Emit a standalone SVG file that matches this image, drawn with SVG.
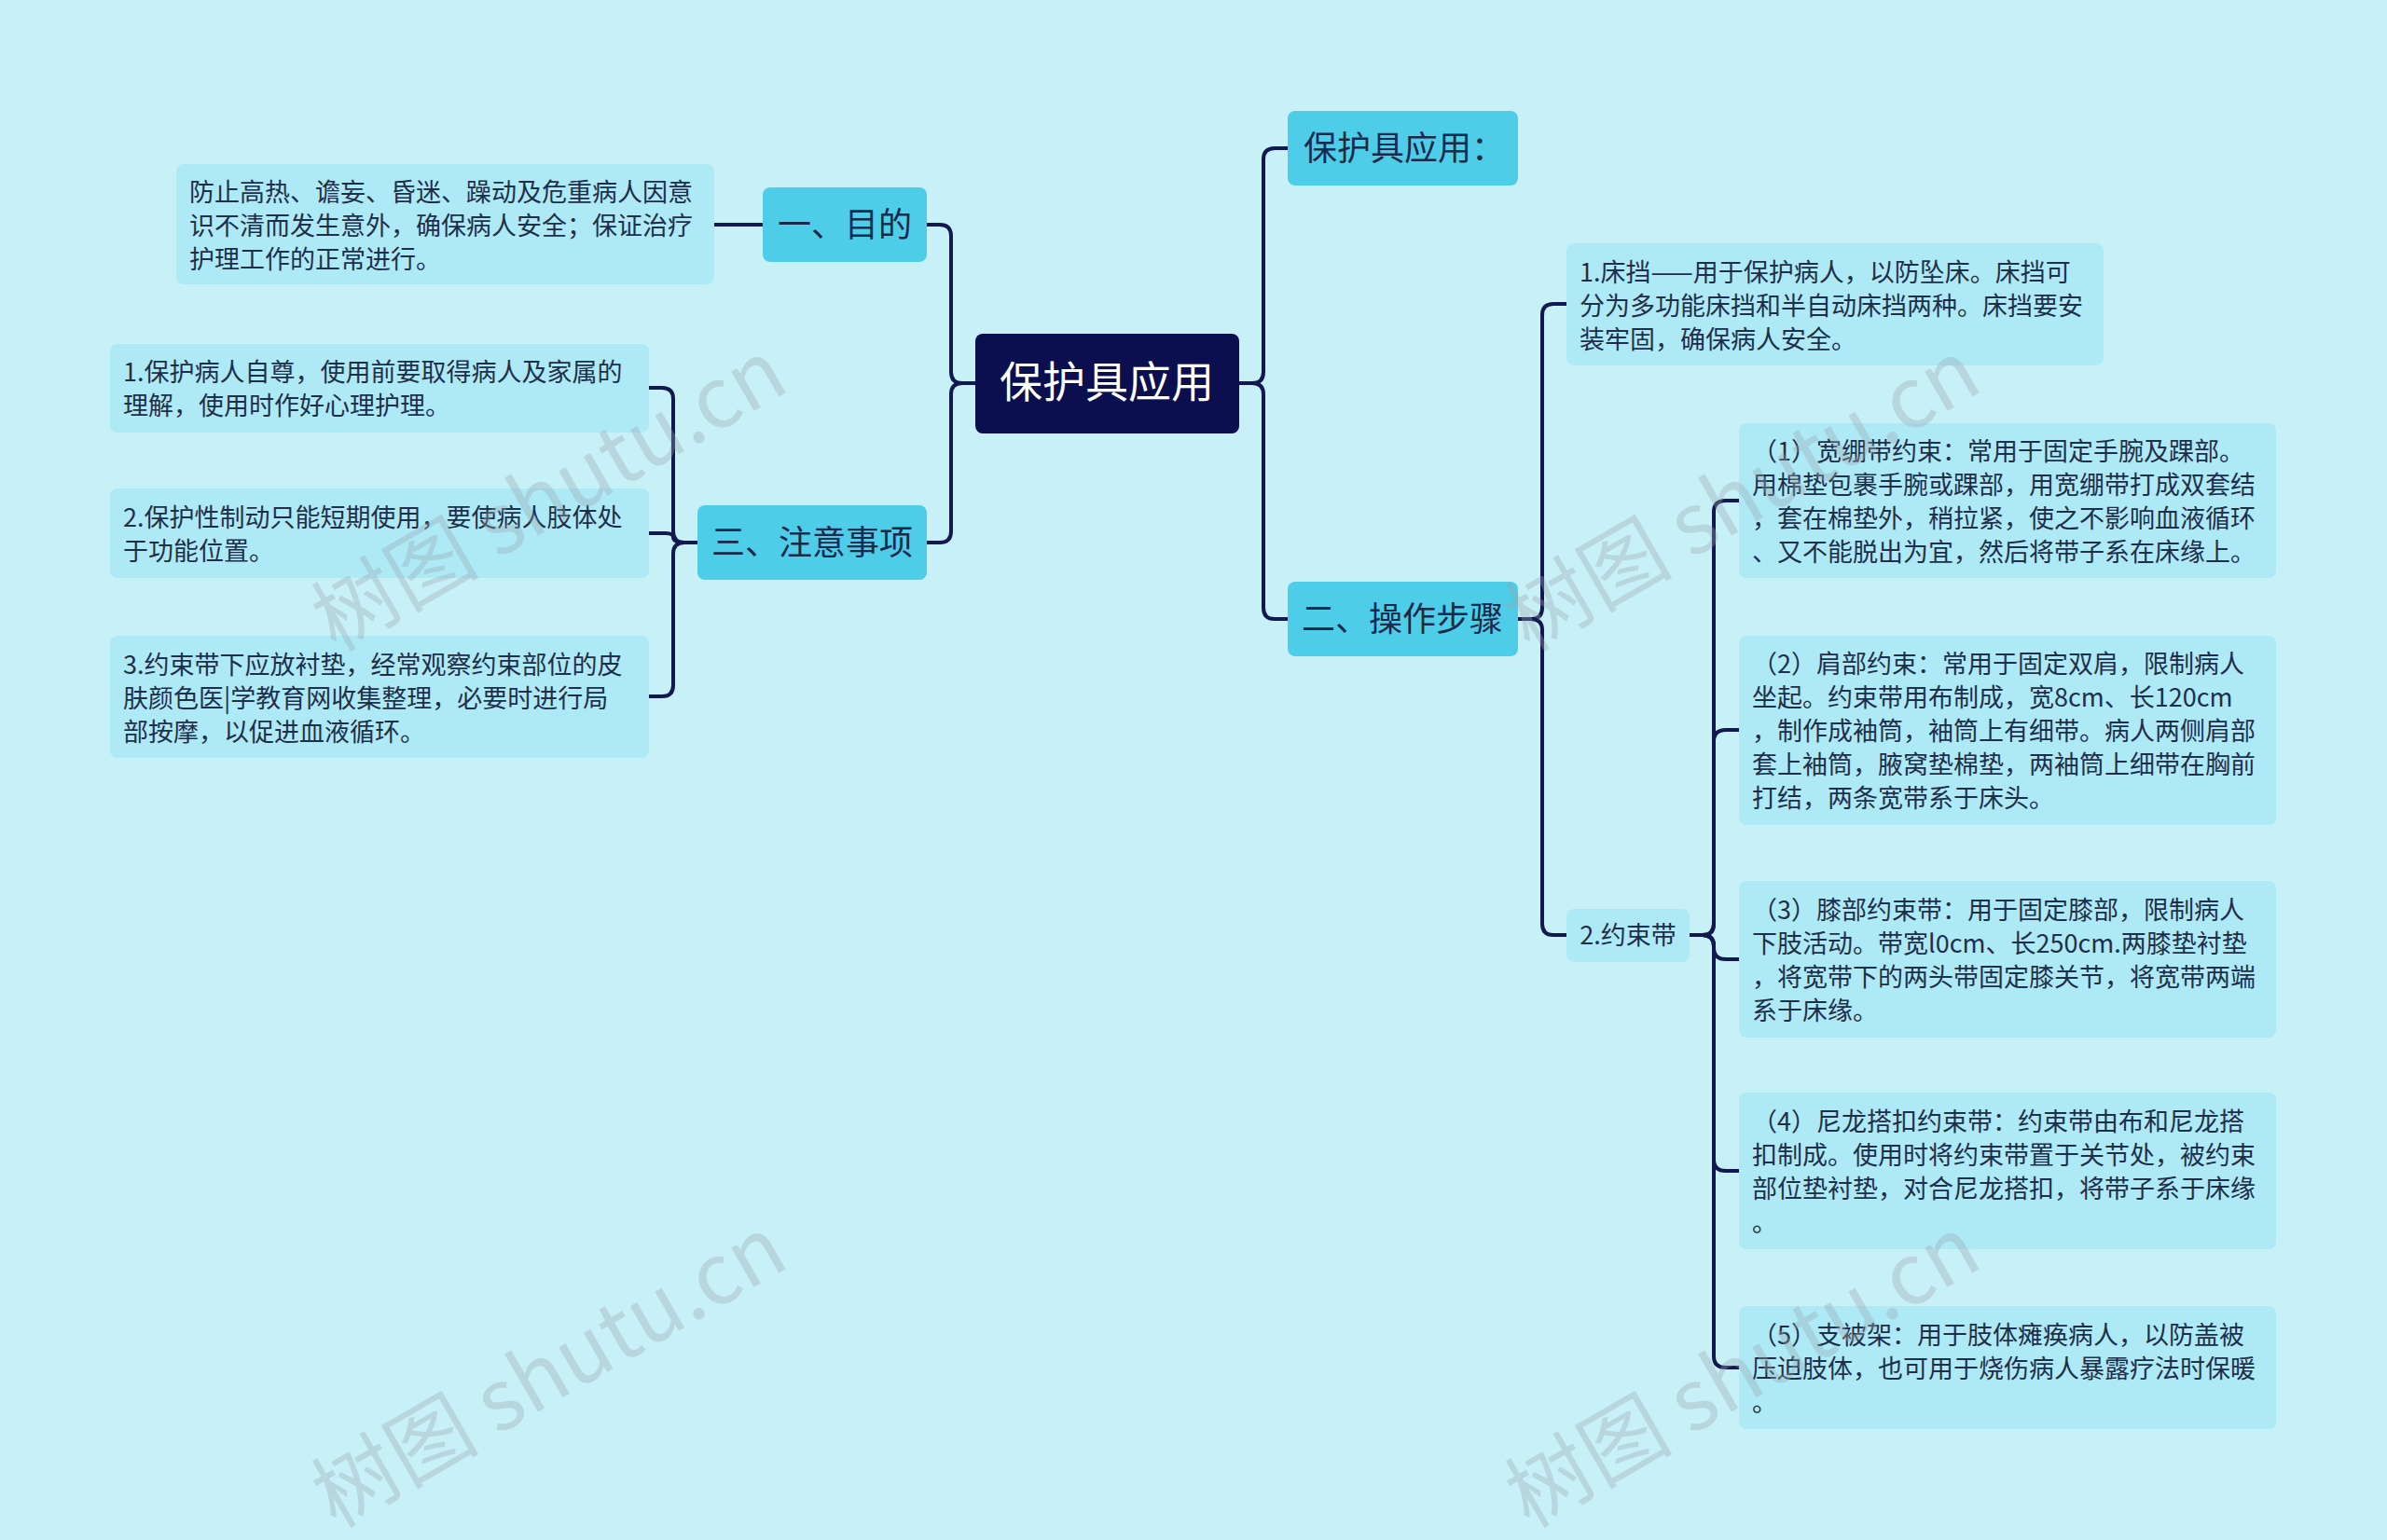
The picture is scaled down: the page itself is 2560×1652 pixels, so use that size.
<svg xmlns="http://www.w3.org/2000/svg" width="2560" height="1652" viewBox="0 0 2560 1652">
<style>
text{font-family:"Noto Sans CJK SC","Noto Sans",sans-serif;}
.l1{fill:#4dcde8;}
.lf{fill:#aee9f6;}
.t1{font-size:36px;fill:#1a2a4a;}
.tl{font-size:27px;fill:#1f2f4a;}
.c{fill:none;stroke:#141850;stroke-width:4;}
.wm{font-size:90px;fill:#9aa8b0;opacity:0.35;}
</style>
<rect width="2560" height="1652" fill="#c8f0f7"/>
<g id="connectors">
<path class="c" d="M1329 411H1343Q1355 411 1355 399V171Q1355 159 1367 159H1381"/>
<path class="c" d="M1343 411Q1355 411 1355 423V652Q1355 664 1367 664H1381"/>
<path class="c" d="M1046 411H1032Q1020 411 1020 399V253Q1020 241 1008 241H994"/>
<path class="c" d="M1032 411Q1020 411 1020 423V570Q1020 582 1008 582H994"/>
<path class="c" d="M818 241H766"/>
<path class="c" d="M748 582H734Q722 582 722 570V428Q722 416 710 416H696"/>
<path class="c" d="M734 582Q722 582 722 576Q722 572 714 572H696"/>
<path class="c" d="M734 582Q722 582 722 594V735Q722 747 710 747H696"/>
<path class="c" d="M1628 664H1642Q1654 664 1654 652V338Q1654 326 1666 326H1680"/>
<path class="c" d="M1642 664Q1654 664 1654 676V991Q1654 1003 1666 1003H1680"/>
<path class="c" d="M1812 1003H1826Q1838 1003 1838 991V549Q1838 537 1851 537H1865"/>
<path class="c" d="M1826 1003Q1838 1003 1838 991V795Q1838 783 1851 783H1865"/>
<path class="c" d="M1826 1003Q1838 1003 1838 1015V1017Q1838 1029 1851 1029H1865"/>
<path class="c" d="M1826 1003Q1838 1003 1838 1015V1244Q1838 1256 1851 1256H1865"/>
<path class="c" d="M1826 1003Q1838 1003 1838 1015V1455Q1838 1467 1851 1467H1865"/>
</g>
<g id="root"><rect x="1046" y="358" width="283" height="107" rx="8" fill="#0b0e4f"/><text x="1187" y="426" font-size="46" fill="#fff" text-anchor="middle">保护具应用</text></g>
<g id="n1"><rect class="l1" x="818" y="201" width="176" height="80" rx="8"/><text class="t1" x="906" y="254" text-anchor="middle">一、目的</text></g>
<g id="n3"><rect class="l1" x="748" y="542" width="246" height="80" rx="8"/><text class="t1" x="871" y="595" text-anchor="middle">三、注意事项</text></g>
<g id="nA"><rect class="l1" x="1381" y="119" width="247" height="80" rx="8"/><text class="t1" x="1398" y="172">保护具应用：</text></g>
<g id="n2"><rect class="l1" x="1381" y="624" width="247" height="80" rx="8"/><text class="t1" x="1504" y="677" text-anchor="middle">二、操作步骤</text></g>
<g id="leaf1"><rect class="lf" x="189" y="176" width="577" height="129" rx="8"/><text class="tl"><tspan x="203" y="216">防止高热、谵妄、昏迷、躁动及危重病人因意</tspan><tspan x="203" y="252">识不清而发生意外，确保病人安全；保证治疗</tspan><tspan x="203" y="288">护理工作的正常进行。</tspan></text></g>
<g id="note1"><rect class="lf" x="118" y="369" width="578" height="95" rx="8"/><text class="tl"><tspan x="132" y="409">1.保护病人自尊，使用前要取得病人及家属的</tspan><tspan x="132" y="445">理解，使用时作好心理护理。</tspan></text></g>
<g id="note2"><rect class="lf" x="118" y="524" width="578" height="96" rx="8"/><text class="tl"><tspan x="132" y="565">2.保护性制动只能短期使用，要使病人肢体处</tspan><tspan x="132" y="601">于功能位置。</tspan></text></g>
<g id="note3"><rect class="lf" x="118" y="682" width="578" height="131" rx="8"/><text class="tl"><tspan x="132" y="723">3.约束带下应放衬垫，经常观察约束部位的皮</tspan><tspan x="132" y="759">肤颜色医|学教育网收集整理，必要时进行局</tspan><tspan x="132" y="795">部按摩，以促进血液循环。</tspan></text></g>
<g id="bed"><rect class="lf" x="1680" y="261" width="576" height="131" rx="8"/><text class="tl"><tspan x="1694" y="302">1.床挡——用于保护病人，以防坠床。床挡可</tspan><tspan x="1694" y="338">分为多功能床挡和半自动床挡两种。床挡要安</tspan><tspan x="1694" y="374">装牢固，确保病人安全。</tspan></text></g>
<g id="belt"><rect class="lf" x="1680" y="975" width="132" height="57" rx="8"/><text class="tl" x="1746" y="1013" text-anchor="middle">2.约束带</text></g>
<g id="b1"><rect class="lf" x="1865" y="454" width="576" height="166" rx="8"/><text class="tl"><tspan x="1879" y="494">（1）宽绷带约束：常用于固定手腕及踝部。</tspan><tspan x="1879" y="530">用棉垫包裹手腕或踝部，用宽绷带打成双套结</tspan><tspan x="1879" y="566">，套在棉垫外，稍拉紧，使之不影响血液循环</tspan><tspan x="1879" y="602">、又不能脱出为宜，然后将带子系在床缘上。</tspan></text></g>
<g id="b2"><rect class="lf" x="1865" y="682" width="576" height="203" rx="8"/><text class="tl"><tspan x="1879" y="722">（2）肩部约束：常用于固定双肩，限制病人</tspan><tspan x="1879" y="758">坐起。约束带用布制成，宽8cm、长120cm</tspan><tspan x="1879" y="794">，制作成袖筒，袖筒上有细带。病人两侧肩部</tspan><tspan x="1879" y="830">套上袖筒，腋窝垫棉垫，两袖筒上细带在胸前</tspan><tspan x="1879" y="866">打结，两条宽带系于床头。</tspan></text></g>
<g id="b3"><rect class="lf" x="1865" y="945" width="576" height="168" rx="8"/><text class="tl"><tspan x="1879" y="986">（3）膝部约束带：用于固定膝部，限制病人</tspan><tspan x="1879" y="1022">下肢活动。带宽l0cm、长250cm.两膝垫衬垫</tspan><tspan x="1879" y="1058">，将宽带下的两头带固定膝关节，将宽带两端</tspan><tspan x="1879" y="1094">系于床缘。</tspan></text></g>
<g id="b4"><rect class="lf" x="1865" y="1172" width="576" height="168" rx="8"/><text class="tl"><tspan x="1879" y="1213">（4）尼龙搭扣约束带：约束带由布和尼龙搭</tspan><tspan x="1879" y="1249">扣制成。使用时将约束带置于关节处，被约束</tspan><tspan x="1879" y="1285">部位垫衬垫，对合尼龙搭扣，将带子系于床缘</tspan><tspan x="1879" y="1321">。</tspan></text></g>
<g id="b5"><rect class="lf" x="1865" y="1401" width="576" height="132" rx="8"/><text class="tl"><tspan x="1879" y="1442">（5）支被架：用于肢体瘫痪病人，以防盖被</tspan><tspan x="1879" y="1478">压迫肢体，也可用于烧伤病人暴露疗法时保暖</tspan><tspan x="1879" y="1514">。</tspan></text></g>
<g id="watermarks">
<text class="wm" transform="translate(360 700) rotate(-30)">树图 shutu.cn</text>
<text class="wm" transform="translate(1640 700) rotate(-30)">树图 shutu.cn</text>
<text class="wm" transform="translate(360 1640) rotate(-30)">树图 shutu.cn</text>
<text class="wm" transform="translate(1640 1640) rotate(-30)">树图 shutu.cn</text>
</g>
</svg>
